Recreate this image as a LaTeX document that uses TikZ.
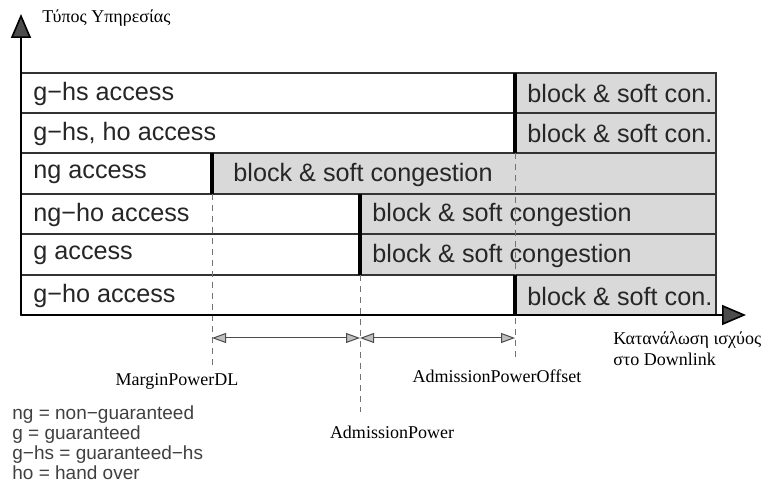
\documentclass[tikz,border=0pt]{standalone}
\usepackage{fontspec}
\setmainfont{Liberation Serif}
\setsansfont{Liberation Sans}
\usetikzlibrary{arrows.meta}

\definecolor{congray}{HTML}{D9D9D9}
\definecolor{rulegray}{HTML}{333333}

\tikzset{
  celltext/.style={anchor=west, inner sep=0pt, font=\sffamily\fontsize{12.6}{14}\selectfont, text=black!85},
  freecell/.style={fill=white, draw=rulegray, line width=0.7pt},
  congcell/.style={fill=congray, draw=rulegray, line width=0.7pt},
  splitline/.style={line width=1.6pt, black},
  guide/.style={draw=black!55, line width=0.5pt, dash pattern=on 3pt off 2.5pt},
  dimarrow/.style={black!70, line width=0.5pt, {Triangle[length=7pt,width=5pt,fill=gray!50]}-{Triangle[length=7pt,width=5pt,fill=gray!50]}},
  axis/.style={line width=0.8pt, -{Triangle[length=12pt,width=10pt,fill=black!70]}},
  annot/.style={font=\fontsize{9}{10.5}\selectfont, inner sep=0pt}
}

\begin{document}
\begin{tikzpicture}[x=0.5pt,y=-0.5pt]
  \useasboundingbox (0,0) rectangle (764,490);

  % service rows: free part, then congestion part from the cut
  \foreach \i/\top/\bot/\cut/\free/\cong/\off in {
    1/73/113/515/{g−hs access}/{block \& soft con.}/12,
    2/113/153/515/{g−hs, ho access}/{block \& soft con.}/12,
    3/153/194/212/{ng access}/{block \& soft congestion}/21,
    4/194/234/360/{ng−ho access}/{block \& soft congestion}/12,
    5/234/275/360/{g access}/{block \& soft congestion}/12,
    6/275/315/515/{g−ho access}/{block \& soft con.}/12}
  {
    \draw[freecell] (21,\top) rectangle (\cut,\bot);
    \draw[congcell] (\cut,\top) rectangle (716,\bot);
    \node[celltext] (free\i) at (33,{(\top+\bot)/2+1}) {\free};
    \node[celltext] (cong\i) at ({\cut+\off},{(\top+\bot)/2+1}) {\cong};
  }

  % thresholds
  \coordinate (mpTop) at (212,194);
  \coordinate (mpBot) at (212,368);
  \coordinate (apTop) at (360,275);
  \coordinate (apBot) at (360,412);
  \coordinate (aoTop) at (515,153);
  \coordinate (aoBot) at (515,360);
  \draw[guide] (mpTop) -- (mpBot);
  \draw[guide] (apTop) -- (apBot);
  \draw[guide] (aoTop) -- (aoBot);

  % thick cuts
  \draw[splitline] (515,73) -- (515,153);
  \draw[splitline] (212,153) -- (212,194);
  \draw[splitline] (360,194) -- (360,275);
  \draw[splitline] (515,275) -- (515,315);

  % axes
  \coordinate (origin) at (21,315);
  \coordinate (ytip) at (21,14);
  \coordinate (xtip) at (746,315);
  \draw[axis] (origin) -- (ytip);
  \draw[axis] (origin) -- (xtip);

  % distances between thresholds
  \coordinate (mpDim) at (212,338);
  \coordinate (apDim) at (360,338);
  \coordinate (aoDim) at (515,338);
  \draw[dimarrow] (mpDim) -- (apDim);
  \draw[dimarrow] (apDim) -- (aoDim);

  % labels
  \node[annot, anchor=west] (ylabel) at (42,18) {Τύπος Υπηρεσίας};
  \node[annot, anchor=north west, align=left] (xlabel) at (613,331) {Κατανάλωση ισχύος\\στο Downlink};
  \node[annot] (mplabel) at (177,381) {MarginPowerDL};
  \node[annot] (aolabel) at (497,376) {AdmissionPowerOffset};
  \node[annot] (aplabel) at (392,432) {AdmissionPower};

  % abbreviations
  \node[anchor=north west, align=left, inner sep=0pt, text=black!75,
        font=\sffamily\fontsize{9.5}{10}\selectfont] (legend) at (12,405)
        {ng = non−guaranteed\\g = guaranteed\\g−hs = guaranteed−hs\\ho = hand over};
\end{tikzpicture}
\end{document}
